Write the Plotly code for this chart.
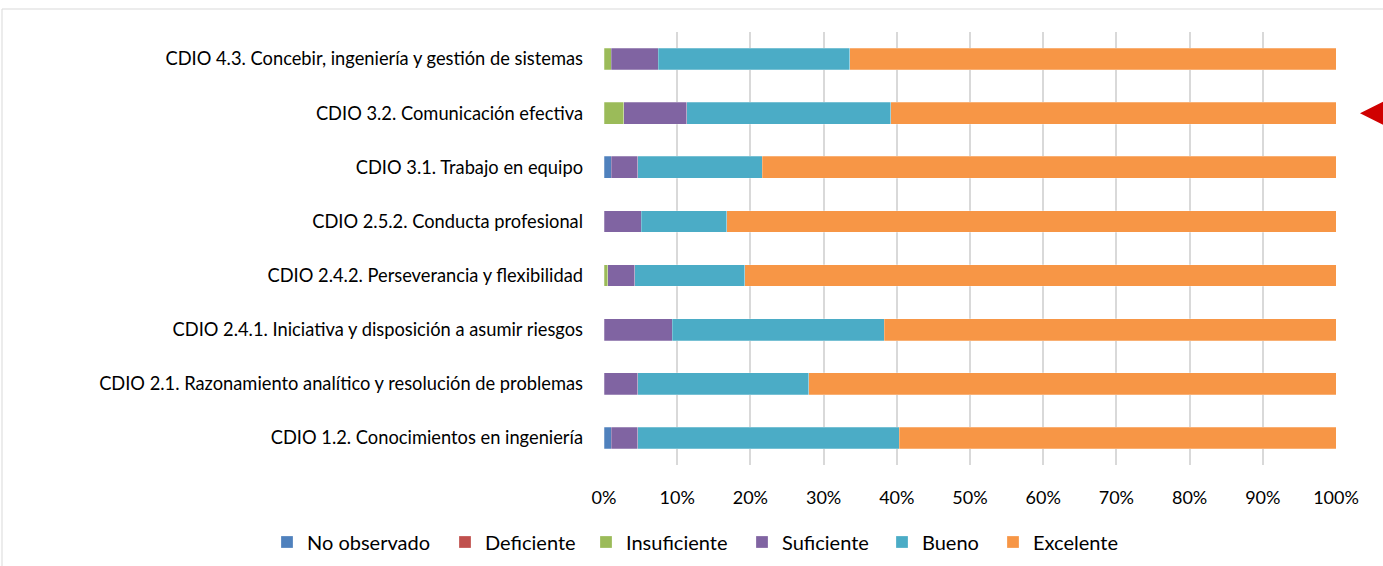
import plotly.graph_objects as go

categories = [
    "CDIO 1.2. Conocimientos en ingeniería",
    "CDIO 2.1. Razonamiento analítico y resolución de problemas",
    "CDIO 2.4.1. Iniciativa y disposición a asumir riesgos",
    "CDIO 2.4.2. Perseverancia y flexibilidad",
    "CDIO 2.5.2. Conducta profesional",
    "CDIO 3.1. Trabajo en equipo",
    "CDIO 3.2. Comunicación efectiva",
    "CDIO 4.3. Concebir, ingeniería y gestión de sistemas",
]

no_observado = [1.0, 0, 0, 0, 0, 1.0, 0, 0]
deficiente = [0, 0, 0, 0, 0, 0, 0, 0]
insuficiente = [0, 0, 0, 0.5, 0, 0, 2.7, 1.0]
suficiente = [3.6, 4.6, 9.3, 3.7, 5.1, 3.6, 8.6, 6.4]
bueno = [35.7, 23.4, 29.0, 15.0, 11.7, 17.0, 27.9, 26.2]
excelente = [59.7, 72.0, 61.7, 80.8, 83.2, 78.4, 60.8, 66.4]

series = [
    ("No observado", no_observado, "#4F81BD"),
    ("Deficiente", deficiente, "#C0504D"),
    ("Insuficiente", insuficiente, "#9BBB59"),
    ("Suficiente", suficiente, "#8064A2"),
    ("Bueno", bueno, "#4BACC6"),
    ("Excelente", excelente, "#F79646"),
]

FONT = "Lato"
W, H = 1383, 566
L, T, PW, PH = 604, 32, 732, 433

# each legend entry is placed on its own, like the Excel legend row
legend_left_px = [267, 445, 586, 742, 882, 993]
legend_y = (T + PH - 542) / PH

fig = go.Figure()
legend_layout = {}
for i, (name, vals, color) in enumerate(series):
    key = "legend" if i == 0 else "legend%d" % (i + 1)
    fig.add_trace(go.Bar(
        y=categories, x=vals, name=name, orientation="h", legend=key,
        marker=dict(color=color, line=dict(color="rgba(255,255,255,0.5)", width=0.5)),
    ))
    legend_layout[key] = dict(
        x=(legend_left_px[i] - L) / PW, xanchor="left",
        y=legend_y, yanchor="middle",
        font=dict(family=FONT, size=20, color="#000000"),
        bgcolor="rgba(0,0,0,0)",
    )

fig.update_layout(
    barmode="stack",
    bargap=0.6,
    width=W, height=H,
    margin=dict(l=L, r=W - L - PW, t=T, b=H - T - PH, autoexpand=False),
    plot_bgcolor="white", paper_bgcolor="white",
    font=dict(family=FONT, size=18, color="#000000"),
    showlegend=True,
    shapes=[
        dict(type="line", xref="paper", yref="paper",
             x0=(2 - L) / PW, x1=(W - L) / PW, y0=(T + PH - 9) / PH, y1=(T + PH - 9) / PH,
             line=dict(color="#D9D9D9", width=1)),
        dict(type="line", xref="paper", yref="paper",
             x0=(2 - L) / PW, x1=(2 - L) / PW, y0=(T + PH - 9) / PH, y1=(T + PH - H) / PH,
             line=dict(color="#D9D9D9", width=1)),
    ],
    annotations=[
        dict(xref="paper", yref="y", x=(1360 - L) / PW, y=categories[6],
             ax=60, ay=0, text="", showarrow=True,
             arrowhead=2, arrowsize=1.5, arrowwidth=6, arrowcolor="#D00000"),
    ],
    **legend_layout,
)

fig.update_xaxes(
    range=[0, 100], dtick=10, ticksuffix="%",
    showgrid=True, gridcolor="#D9D9D9", gridwidth=1.5,
    zeroline=False, showline=False,
    ticklabelstandoff=20,
    tickfont=dict(family=FONT, size=18, color="#000000"),
)
fig.update_yaxes(
    showgrid=False, showline=False, zeroline=False,
    ticklabelstandoff=20, automargin=False,
    tickfont=dict(family=FONT, size=18.3, color="#000000"),
)

# the page body has a default 8px margin; drop it so the figure sits at 0,0
fig.write_html("out.html", config={"displayModeBar": False},
               post_script="document.body.style.margin='0px';")
